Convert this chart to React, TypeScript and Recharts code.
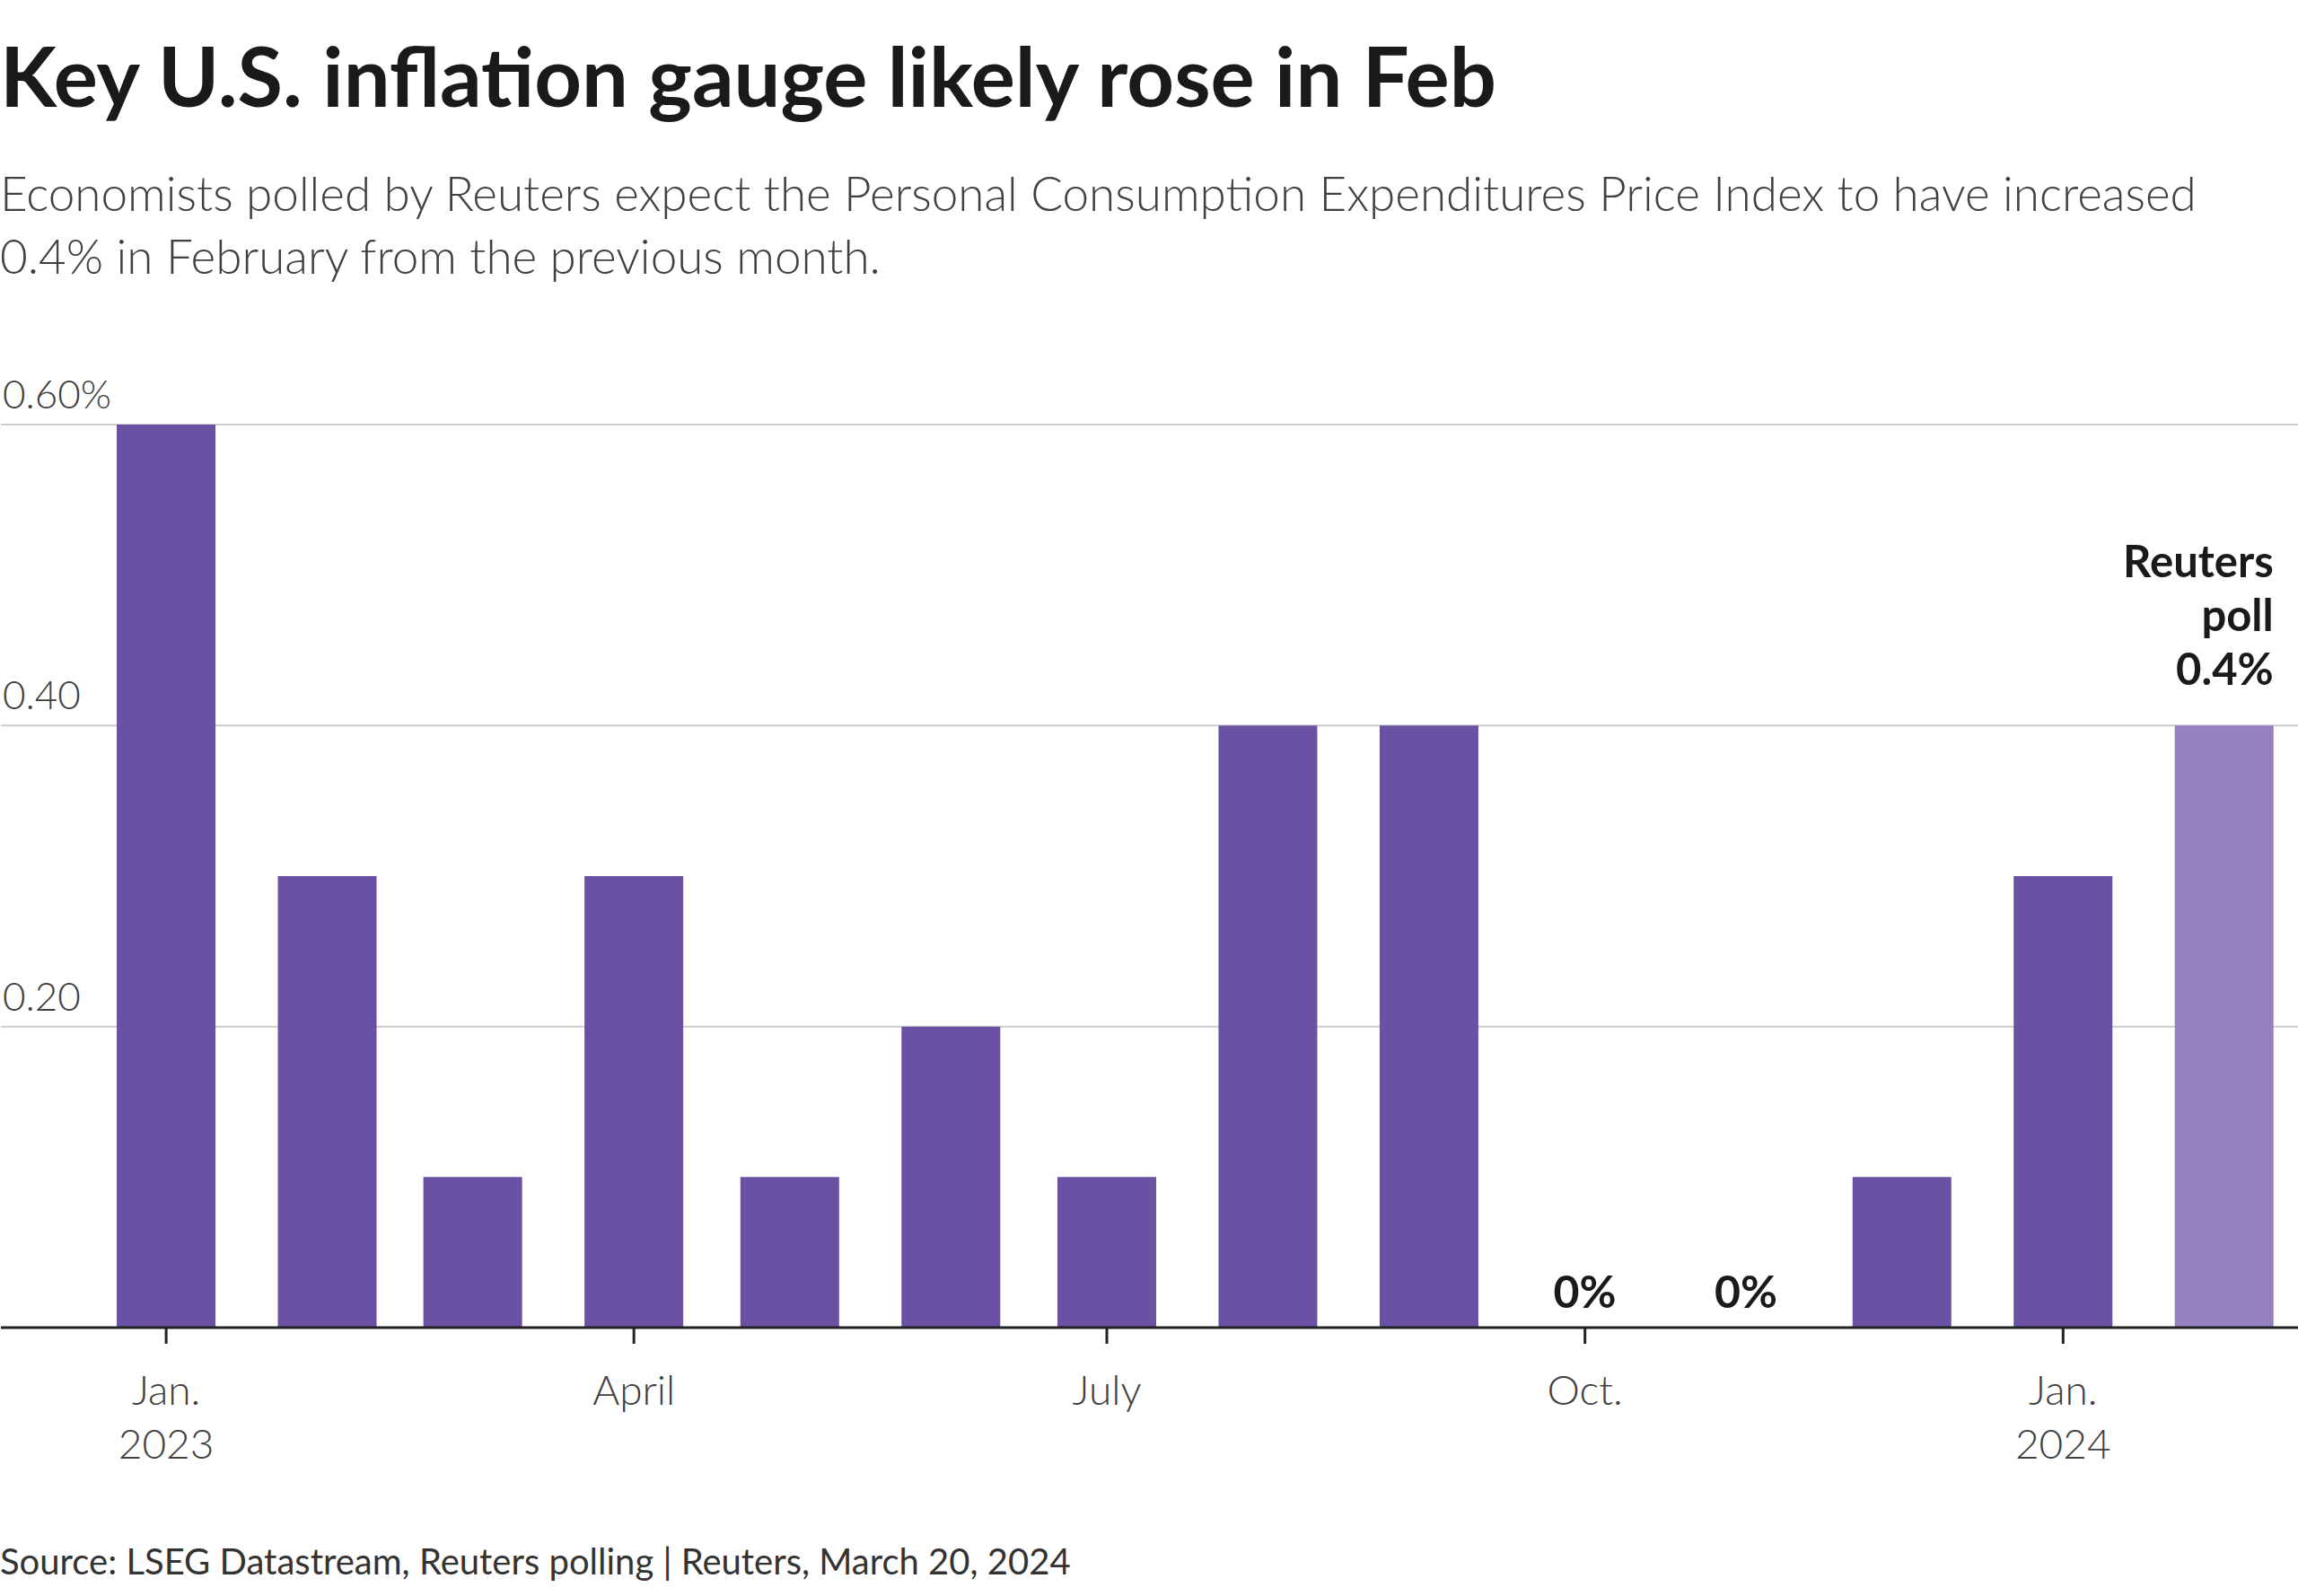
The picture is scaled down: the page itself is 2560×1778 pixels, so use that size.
import { BarChart, Bar, XAxis, YAxis, CartesianGrid, Rectangle } from 'recharts';

const FONT = "Lato, 'Noto Sans', sans-serif";

// monthly PCE price index change, % m/m (last one = Reuters poll)
const months = [
  '2023-01-01', '2023-02-01', '2023-03-01', '2023-04-01', '2023-05-01', '2023-06-01', '2023-07-01',
  '2023-08-01', '2023-09-01', '2023-10-01', '2023-11-01', '2023-12-01', '2024-01-01', '2024-02-01',
];
const pce = [0.6, 0.3, 0.1, 0.3, 0.1, 0.2, 0.1, 0.4, 0.4, 0, 0, 0.1, 0.3, 0.4];
const isPoll = [false, false, false, false, false, false, false, false, false, false, false, false, false, true];

const tickMonths = ['2023-01-01', '2023-04-01', '2023-07-01', '2023-10-01', '2024-01-01'];
const tickLabels = [['Jan.', '2023'], ['April'], ['July'], ['Oct.'], ['Jan.', '2024']];
const yTicks = [0, 0.2, 0.4, 0.6];
const yTickLabels = ['', '0.20', '0.40', '0.60%'];
const pollNote = ['Reuters', 'poll', '0.4%'];

const START = Date.UTC(2023, 0, 1);
const toDay = (s: string) => Math.round((Date.parse(s) - START) / 86400000);

const data = months.map((m, i) => ({ day: toDay(m), value: pce[i], poll: isPoll[i] }));
const xTicks = tickMonths.map(toDay);

const XTick = ({ x, y, payload }: any) => {
  const idx = xTicks.indexOf(payload.value);
  const lines = tickLabels[idx] || [];
  return (
    <text x={x} y={y} textAnchor="middle" fontFamily={FONT} fontWeight={300} fontSize={46} fill="#404040">
      {lines.map((l, i) => (
        <tspan key={i} x={x} dy={i === 0 ? 66 : 60}>{l}</tspan>
      ))}
    </text>
  );
};

const YTick = ({ y, payload }: any) => {
  const idx = yTicks.indexOf(payload.value);
  return (
    <text x={3} y={y - 18} textAnchor="start" fontFamily={FONT} fontWeight={300} fontSize={44} fill="#404040">
      {yTickLabels[idx]}
    </text>
  );
};

// bar + its annotation (poll note on top, "0%" for flat months)
const BarShape = (props: any) => {
  const { x, y, width, height, payload } = props;
  const fill = payload.poll ? '#9581c0' : '#6a51a3';
  const base = y + height;
  return (
    <g>
      {height > 0 && <Rectangle x={x} y={y} width={width} height={height} fill={fill} />}
      {payload.poll && (
        <text x={x + width} y={y} textAnchor="end" fontFamily={FONT} fontWeight={700} fontSize={49} fill="#1a1a1a">
          {pollNote.map((l, i) => (
            <tspan key={i} x={x + width} dy={i === 0 ? -165 : 60}>{l}</tspan>
          ))}
        </text>
      )}
      {payload.value === 0 && (
        <text x={x + width / 2} y={base - 22} textAnchor="middle" fontFamily={FONT} fontWeight={700} fontSize={50} fill="#1a1a1a">
          0%
        </text>
      )}
    </g>
  );
};

export default function App() {
  return (
    <div style={{ position: 'absolute', left: 0, top: 0, width: 2560, height: 1778, background: '#fff', fontFamily: FONT }}>
      <div style={{ position: 'absolute', left: 0, top: 29, fontSize: 92, lineHeight: '110px', fontWeight: 700, color: '#1a1a1a', whiteSpace: 'nowrap' }}>
        Key U.S. inflation gauge likely rose in Feb
      </div>
      <div style={{ position: 'absolute', left: 0, top: 180, width: 2540, fontSize: 53, lineHeight: '70px', fontWeight: 300, color: '#404040' }}>
        Economists polled by Reuters expect the Personal Consumption Expenditures Price Index to have increased
        <br />
        0.4% in February from the previous month.
      </div>
      <BarChart
        width={2560}
        height={1778}
        data={data}
        margin={{ top: 473, right: 0, left: 0, bottom: 139 }}
      >
        <CartesianGrid vertical={false} stroke="#cccccc" strokeWidth={2} />
        <XAxis
          type="number"
          dataKey="day"
          domain={[-31.8, 410.2]}
          allowDataOverflow
          ticks={xTicks}
          interval={0}
          height={160}
          tick={<XTick />}
          tickSize={18}
          axisLine={{ stroke: '#222', strokeWidth: 3 }}
          tickLine={{ stroke: '#222', strokeWidth: 3 }}
        />
        <YAxis
          width={1}
          domain={[0, 0.6]}
          ticks={yTicks}
          interval={0}
          axisLine={false}
          tickLine={false}
          tick={<YTick />}
        />
        <Bar dataKey="value" barSize={110} isAnimationActive={false} shape={BarShape} />
      </BarChart>
      <div style={{ position: 'absolute', left: 0, top: 1715, fontSize: 40, lineHeight: '48px', color: '#333', whiteSpace: 'nowrap' }}>
        Source: LSEG Datastream, Reuters polling | Reuters, March 20, 2024
      </div>
    </div>
  );
}
